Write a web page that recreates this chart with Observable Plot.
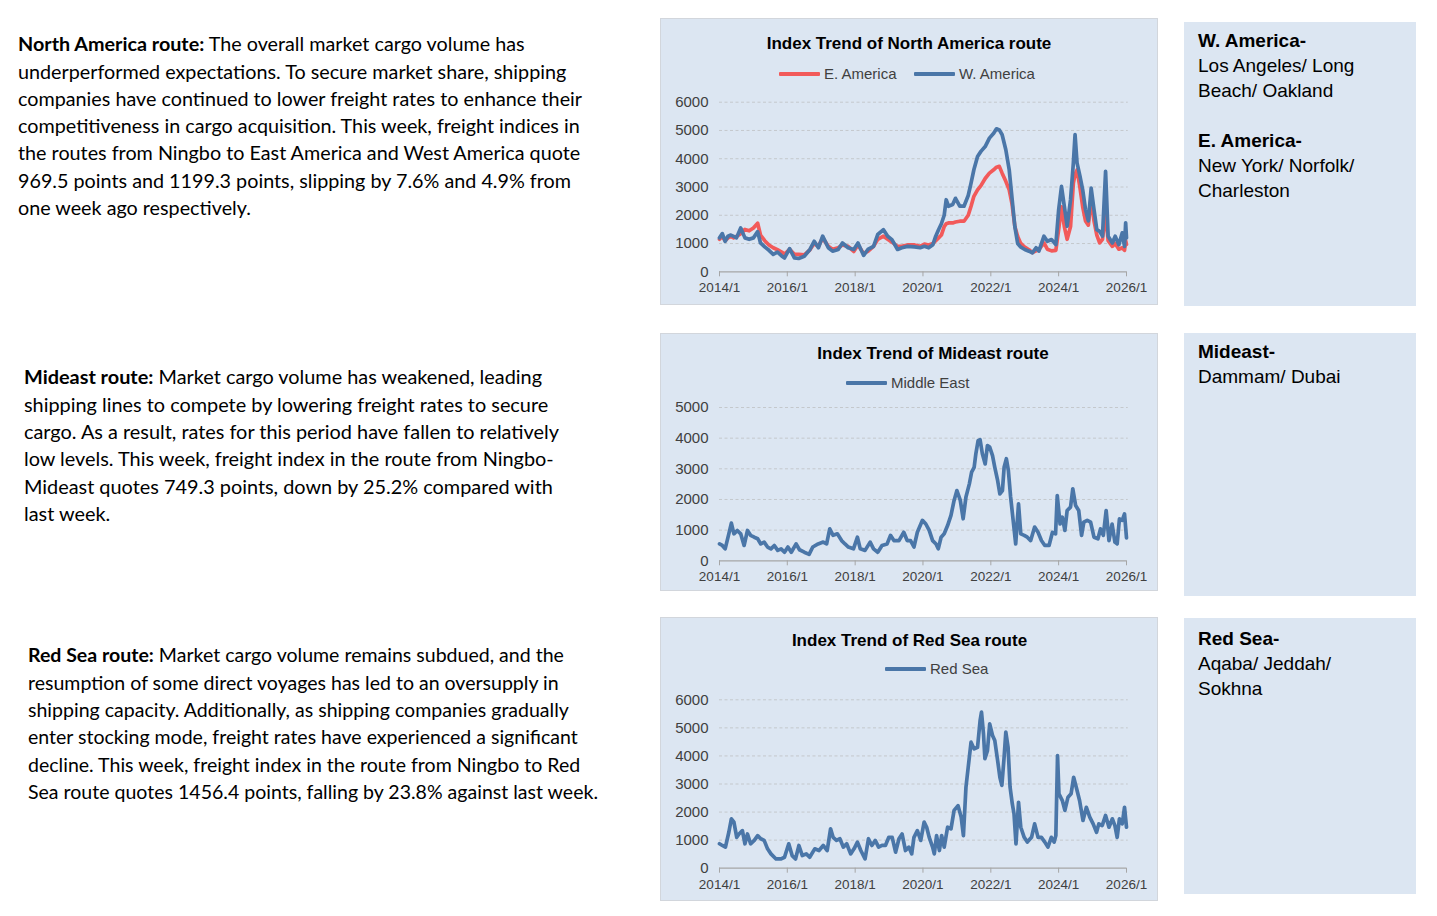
<!DOCTYPE html>
<html>
<head>
<meta charset="utf-8">
<script src="https://cdn.jsdelivr.net/npm/d3@7"></script>
<script src="https://cdn.jsdelivr.net/npm/@observablehq/plot@0.6"></script>
<style>
  html, body { margin: 0; padding: 0; background: #ffffff; }
  body { width: 1437px; height: 916px; position: relative; overflow: hidden; }
  .txt { position: absolute; font-family: Lato, "Open Sans", sans-serif; font-size: 18.5px; line-height: 27.3px; color: #000; white-space: nowrap; transform-origin: 0 0; }
  .txt b { font-weight: 700; }
  .panel { position: absolute; left: 660px; width: 496px; background: #dce6f2; border: 1px solid #d2d6dc; }
  .ptitle { position: absolute; font-family: "Liberation Sans", Arial, sans-serif; font-weight: bold; font-size: 17px; line-height: 20px; color: #000; white-space: nowrap; transform: translateX(-50%); }
  .leg { position: absolute; font-family: "Liberation Sans", Arial, sans-serif; font-size: 15px; line-height: 18px; color: #404040; white-space: nowrap; display: flex; align-items: center; }
  .sw { display: inline-block; width: 41px; height: 4px; margin-right: 4px; border-radius: 1px; }
  .chart { position: absolute; left: 660px; }
  .box { position: absolute; left: 1184px; width: 218px; padding-left: 14px; background: #dce6f2; font-family: "Liberation Sans", Arial, sans-serif; font-size: 19px; line-height: 25px; color: #000; white-space: nowrap; box-sizing: content-box; }
  .box b { font-weight: bold; }
</style>
</head>
<body>

<div class="txt" id="t1" style="left:18px; top:31.3px;">
<span><b>North America route:</b> The overall market cargo volume has</span><br>
<span>underperformed expectations. To secure market share, shipping</span><br>
<span id="t1ref">companies have continued to lower freight rates to enhance their</span><br>
<span>competitiveness in cargo acquisition. This week, freight indices in</span><br>
<span>the routes from Ningbo to East America and West America quote</span><br>
<span>969.5 points and 1199.3 points, slipping by 7.6% and 4.9% from</span><br>
<span>one week ago respectively.</span>
</div>

<div class="txt" id="t2" style="left:24px; top:364.4px;">
<span><b>Mideast route:</b> Market cargo volume has weakened, leading</span><br>
<span>shipping lines to compete by lowering freight rates to secure</span><br>
<span id="t2ref">cargo. As a result, rates for this period have fallen to relatively</span><br>
<span>low levels. This week, freight index in the route from Ningbo-</span><br>
<span>Mideast quotes 749.3 points, down by 25.2% compared with</span><br>
<span>last week.</span>
</div>

<div class="txt" id="t3" style="left:28px; top:642.4px;">
<span><b>Red Sea route:</b> Market cargo volume remains subdued, and the</span><br>
<span>resumption of some direct voyages has led to an oversupply in</span><br>
<span>shipping capacity. Additionally, as shipping companies gradually</span><br>
<span>enter stocking mode, freight rates have experienced a significant</span><br>
<span>decline. This week, freight index in the route from Ningbo to Red</span><br>
<span id="t3ref">Sea route quotes 1456.4 points, falling by 23.8% against last week.</span>
</div>

<div class="panel" style="top:18px; height:285px;"></div>
<div class="panel" style="top:333px; height:256px;"></div>
<div class="panel" style="top:617px; height:282px;"></div>

<div class="ptitle" style="left:909px; top:34px;">Index Trend of North America route</div>
<div class="leg" style="left:779px; top:65px;"><span class="sw" style="background:#f25a5a"></span>E. America</div>
<div class="leg" style="left:914px; top:65px;"><span class="sw" style="background:#4a76a8"></span>W. America</div>

<div class="ptitle" style="left:933px; top:344px;">Index Trend of Mideast route</div>
<div class="leg" style="left:846px; top:374px;"><span class="sw" style="background:#4a76a8"></span>Middle East</div>

<div class="ptitle" style="left:909.5px; top:631px;">Index Trend of Red Sea route</div>
<div class="leg" style="left:885px; top:660px;"><span class="sw" style="background:#4a76a8"></span>Red Sea</div>

<div class="chart" id="c1" style="top:90px;"></div>
<div class="chart" id="c2" style="top:397px;"></div>
<div class="chart" id="c3" style="top:689px;"></div>

<div class="box" style="top:22px; height:278.5px; padding-top:5.5px;">
<b>W. America-</b><br>Los Angeles/ Long<br>Beach/ Oakland<br><br><b>E. America-</b><br>New York/ Norfolk/<br>Charleston
</div>
<div class="box" style="top:333px; height:257.5px; padding-top:5.5px;">
<b>Mideast-</b><br>Dammam/ Dubai
</div>
<div class="box" style="top:618px; height:268.5px; padding-top:7.5px;">
<b>Red Sea-</b><br>Aqaba/ Jeddah/<br>Sokhna
</div>

<script>
// ---------- data (months since 2014/1) ----------
const xTickLabels = ["2014/1", "2016/1", "2018/1", "2020/1", "2022/1", "2024/1", "2026/1"];
const naYTicks = [0, 1000, 2000, 3000, 4000, 5000, 6000];
const meYTicks = [0, 1000, 2000, 3000, 4000, 5000];
const rsYTicks = [0, 1000, 2000, 3000, 4000, 5000, 6000];

const naMonths = [0,1,2,3,4,5,6,7.5,9,10.5,12,13.5,14.5,16,17.5,19,20.5,22,23,24.8,26.5,28,30,32,33.5,35,36.5,38.5,40,42,43.5,45.5,47.5,49,51,52.5,54.5,56,58,59.5,61,63,64.5,66.5,69,71,72.5,74,75.5,76.5,77.5,78.5,79.5,80.2,81,82.5,83.5,85,86.5,88,89,90,91.3,92.5,94,95.5,97,98,99,100,101.3,102.5,103.5,104.5,105.5,106.5,108,109.5,110.7,112,113,114.8,116,117.5,119,120,121,122,123,124.2,125.2,125.8,126.5,127.5,128.5,129.5,130.5,131.5,132.5,133.5,134.5,135.5,136.6,137.5,139,140,141.3,142.5,143.3,143.7,144];
const naEast = [1150,1250,1100,1200,1250,1200,1250,1350,1500,1450,1550,1720,1300,1100,950,850,780,700,620,800,620,620,600,780,1000,900,1200,900,800,850,950,900,720,950,650,720,900,1150,1260,1150,1050,900,900,950,950,900,980,950,1000,1100,1200,1300,1600,1700,1730,1730,1760,1790,1790,2000,2320,2670,2900,3050,3300,3490,3610,3700,3730,3490,3200,2900,2400,1600,1250,1020,870,780,680,740,780,1020,800,740,760,1500,2300,1600,1150,1600,3140,3450,3600,3000,2300,1800,1650,2600,1800,1300,1020,1150,2100,1100,900,1000,800,850,760,1100,970];
const naWest = [1200,1350,1080,1260,1300,1250,1200,1550,1200,1150,1200,1420,1020,880,760,620,700,560,490,820,490,470,550,790,1080,850,1260,850,730,790,1020,850,790,1020,580,790,900,1320,1490,1260,1140,790,850,900,880,850,900,850,960,1260,1490,1700,2000,2550,2320,2380,2600,2320,2320,2700,3140,3610,4080,4260,4430,4730,4900,5060,5020,4850,4320,3610,2600,1600,1000,880,790,730,670,850,730,1260,1080,1140,960,2200,3020,2320,1610,2550,3850,4850,3850,3400,2900,2200,1800,2960,2200,1490,1430,1260,3550,1260,1020,1260,960,1380,900,1730,1200];

const meMonths = [0,1,2,3.3,4.2,5.1,6.3,7.5,8.7,9.9,11,12.3,13.5,14.6,15.8,17,18.2,19.4,20.6,21.8,23,24.2,25.4,27.1,28.3,30,31.7,33,34.9,36.7,37.9,39,40.2,41.7,43.2,44.4,45.6,47.4,48.8,49.8,51.5,53.3,54.5,56,57.5,59.3,60.5,61.7,63.5,65.2,66.4,67.6,68.8,70,71.8,73,74.2,75.4,76.6,77.4,78.4,79.5,80.7,81.9,83,84,85.2,86.2,87.2,88.4,89.2,90.1,90.7,91.5,92.2,93,94,94.8,95.6,96.6,97.4,98.4,99.2,100.1,100.7,101.5,102.2,103,103.9,104.8,105.8,106.6,107.8,108.9,110.1,111.5,112.7,113.9,115.1,116.6,117.8,118.9,119.5,120.5,121.3,122.2,123,124.2,125,126,127.1,128.1,128.9,130.1,131.3,132.5,133.9,134.8,135.8,136.8,137.8,138.9,139.9,140.7,141.5,142.5,143.3,144];
const meValues = [550,500,390,880,1230,880,990,880,500,990,830,770,720,550,610,450,390,500,340,390,280,450,280,550,360,280,210,450,550,610,550,1040,830,880,660,550,450,390,770,390,340,610,390,280,500,550,830,660,660,930,660,660,450,930,1320,1200,990,660,550,390,770,880,1150,1480,1970,2290,1970,1370,2080,2510,2890,3050,3490,3920,3950,3490,3160,3760,3710,3430,3050,2620,2180,2290,3050,3330,2950,2080,1320,550,1860,880,830,770,660,1100,930,660,500,500,930,880,2130,1200,1420,990,1640,1750,2350,1800,1640,830,1260,1320,1260,770,720,1040,830,1640,660,1200,610,550,1370,1320,1530,750];

const rsMonths = [0,1,2.1,3.3,4.2,5.1,6.1,6.9,8.1,9,9.9,11,12.3,13.5,14.6,15.8,17,18.2,20,21.8,23,24.5,25.7,26.9,28.1,29.3,30.7,31.9,33.7,35.2,36.7,38.1,39.3,40.2,41.4,42.6,43.8,45,46.4,47.6,48.8,50,51.5,52.7,53.9,55.1,56.3,57.5,58.7,59.9,61.1,62.3,63.5,64.6,65.8,67,68,68.8,70,71.2,72.4,73.3,74.2,75.4,76,76.8,77.8,78.6,79.5,80.7,81.9,83,84.4,85.5,86.3,87.2,88,89,90.1,91.3,92.2,92.7,93.4,93.9,94.8,95.6,96.6,97.4,98.4,99.2,99.9,100.7,101.3,102.1,102.8,103.6,104.2,104.9,105.8,106.6,107.8,108.9,110.4,111.5,112.7,113.9,115.1,116.2,117.4,118.4,119,119.6,120.1,121.3,122.2,123.3,124.4,125.3,126.2,127.4,128.6,129.8,131,132.2,133.4,134.2,135.4,136.6,137.8,139,139.9,140.7,141.5,142.5,143.3,144];
const rsValues = [870,810,750,1280,1760,1640,1100,1220,1340,870,1220,870,990,1160,1050,990,690,510,330,330,390,870,450,330,810,450,510,390,690,630,810,630,1400,1100,990,1050,750,870,510,690,930,630,330,1050,810,990,750,810,810,1100,1100,570,1050,1220,630,750,510,1100,1340,990,1640,1460,1100,750,510,1160,630,1160,750,1460,1400,2060,2230,1820,1160,2890,3600,4490,4250,4310,5260,5560,4790,3900,4190,5140,4730,4550,3840,3240,2950,3960,4850,4310,2890,2290,1940,870,2350,1460,1100,930,1100,1580,1100,1100,930,750,1100,930,1160,4010,2650,2410,2060,2530,2650,3240,2890,2410,1700,2170,1820,1580,1280,1580,1520,1880,1460,1760,1520,1100,1760,1580,2170,1460];

// ---------- helpers ----------
const t0 = Date.UTC(2014, 0, 1);
const monthToDate = m => new Date(t0 + m * 30.4375 * 864e5);
const xDomain = [new Date(Date.UTC(2014, 0, 1)), new Date(Date.UTC(2026, 0, 1))];
const xTickDates = xTickLabels.map(s => new Date(Date.UTC(+s.split("/")[0], +s.split("/")[1] - 1, 1)));
const fmtX = d => xTickLabels[xTickDates.findIndex(t => +t === +d)];

const BLUE = "#4a76a8", RED = "#f25a5a";

function makeChart({height, marginTop, marginBottom, yMax, yTicks, series}) {
  return Plot.plot({
    width: 498,
    height,
    marginLeft: 59,
    marginRight: 32,
    marginTop,
    marginBottom,
    style: {background: "transparent", fontFamily: "'Liberation Sans', Arial, sans-serif", color: "#404040", overflow: "visible"},
    x: {type: "utc", domain: xDomain},
    y: {domain: [0, yMax]},
    marks: [
      Plot.ruleY(yTicks.filter(v => v > 0), {x1: xDomain[0], x2: new Date(Date.UTC(2026, 0, 20)), stroke: "#c4c8cc", strokeDasharray: "3,2.5", strokeWidth: 1}),
      Plot.axisY(yTicks, {tickSize: 0, tickPadding: 11, fontSize: 15, fill: "#404040", label: null, tickFormat: d => String(d)}),
      Plot.ruleY([0], {stroke: "#a6a6a6", strokeWidth: 1.2}),
      Plot.axisX(xTickDates, {tickSize: 5, tickPadding: 6, tickFormat: fmtX, fontSize: 13.5, stroke: "#a6a6a6", fill: "#404040", label: null}),
      ...series.map(s => Plot.line(s.data, {x: "date", y: "value", stroke: s.color, strokeWidth: 3.7, strokeLinejoin: "round", strokeLinecap: "round"}))
    ]
  });
}

const rows = (months, values) => months.map((m, i) => ({date: monthToDate(m), value: values[i]}));

document.getElementById("c1").append(makeChart({
  height: 215, marginTop: 11.7, marginBottom: 33.7, yMax: 6000, yTicks: naYTicks,
  series: [{data: rows(naMonths, naEast), color: RED}, {data: rows(naMonths, naWest), color: BLUE}]
}));
document.getElementById("c2").append(makeChart({
  height: 194, marginTop: 10, marginBottom: 30.7, yMax: 5000, yTicks: meYTicks,
  series: [{data: rows(meMonths, meValues), color: BLUE}]
}));
document.getElementById("c3").append(makeChart({
  height: 212, marginTop: 10.3, marginBottom: 33.3, yMax: 6000, yTicks: rsYTicks,
  series: [{data: rows(rsMonths, rsValues), color: BLUE}]
}));

// fit paragraph widths to the reference line widths
[["t1", "t1ref", 564], ["t2", "t2ref", 535], ["t3", "t3ref", 570]].forEach(([id, ref, target]) => {
  const w = document.getElementById(ref).getBoundingClientRect().width;
  document.getElementById(id).style.transform = `scaleX(${target / w})`;
});
</script>
</body>
</html>
